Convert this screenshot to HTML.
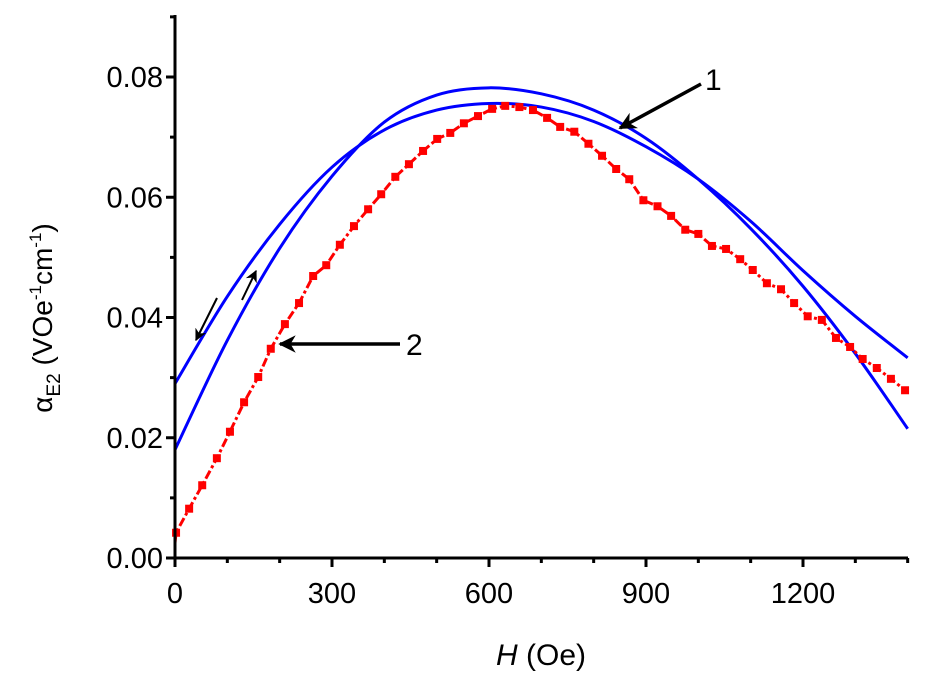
<!DOCTYPE html>
<html><head><meta charset="utf-8"><style>
body{margin:0;background:#fff}
svg text{font-family:"Liberation Sans",Arial,sans-serif;fill:#000}
</style></head><body>
<svg id="chart" width="930" height="674" viewBox="0 0 930 674">
<g id="series"></g>
<g id="axes"></g>
</svg>
<script>
const blueA_H = [0,100,200,300,400,500,600,700,800,900,1000,1100,1200,1300,1400];
const blueA_Y = [0.029,0.0435,0.0555,0.065,0.0712,0.0745,0.0756,0.0750,0.0726,0.0684,0.0630,0.0560,0.0478,0.0402,0.0333];
const blueB_H = [0,100,200,300,400,500,600,700,800,900,1000,1100,1200,1300,1400];
const blueB_Y = [0.018,0.0362,0.0515,0.0635,0.0725,0.077,0.0782,0.0772,0.0745,0.0698,0.0630,0.0548,0.0452,0.034,0.0215];
const red_H = [2,27,52,80,105,132,159,183,210,237,264,289,315,342,369,394,421,447,474,501,526,552,579,606,631,658,684,711,736,763,790,816,843,868,895,922,948,975,1000,1026,1053,1080,1104,1131,1158,1183,1209,1236,1263,1290,1314,1341,1368,1395];
const red_Y = [0.0042,0.0082,0.0121,0.0166,0.021,0.0259,0.0301,0.0348,0.0389,0.0424,0.0469,0.0487,0.0521,0.0552,0.058,0.0605,0.0634,0.0655,0.0677,0.0697,0.0707,0.0723,0.0735,0.0747,0.0752,0.075,0.0745,0.0732,0.0717,0.0709,0.0689,0.0669,0.0647,0.063,0.0595,0.0585,0.0569,0.0546,0.0539,0.0519,0.0514,0.0497,0.0479,0.0457,0.0447,0.0424,0.0402,0.0396,0.0366,0.0351,0.0331,0.0316,0.0298,0.0279];
const xTicks = [0,300,600,900,1200];
const yTicks = [0,0.02,0.04,0.06,0.08];

const NS='http://www.w3.org/2000/svg';
const X0=175, XS=157/300, Y0=558, YS=120.25/0.02;
const sx=h=>X0+h*XS, sy=v=>Y0-v*YS;
function mk(tag,attrs,parent){const e=document.createElementNS(NS,tag);for(const k in attrs)e.setAttribute(k,attrs[k]);parent.appendChild(e);return e;}
const gs=document.getElementById('series'), ga=document.getElementById('axes');

function smoothPath(H,Y){
  const p=H.map((h,i)=>[sx(h),sy(Y[i])]);
  let d='M'+p[0][0]+','+p[0][1];
  for(let i=0;i<p.length-1;i++){
    const a=p[Math.max(i-1,0)],b=p[i],c=p[i+1],e=p[Math.min(i+2,p.length-1)];
    const c1=[b[0]+(c[0]-a[0])/6,b[1]+(c[1]-a[1])/6], c2=[c[0]-(e[0]-b[0])/6,c[1]-(e[1]-b[1])/6];
    d+=' C'+c1.join(',')+' '+c2.join(',')+' '+c.join(',');
  }
  return d;
}
let el;
el=mk('path',{d:smoothPath(blueA_H,blueA_Y),fill:'none',stroke:'#0000ff','stroke-width':3},gs);


el=mk('path',{d:smoothPath(blueB_H,blueB_Y),fill:'none',stroke:'#0000ff','stroke-width':3},gs);


let rd='M'+sx(0)+','+sy(0.0025)+' '+red_H.map((h,i)=>'L'+sx(h)+','+sy(red_Y[i])).join(' ');
el=mk('path',{d:rd,fill:'none',stroke:'#ff0000','stroke-width':3,'stroke-dasharray':'9,3,3,3'},gs);


red_H.forEach((h,i)=>{
  const r=mk('rect',{x:sx(h)-4,y:sy(red_Y[i])-4,width:8,height:8,fill:'#ff0000'},gs);
  
  
});

el=mk('line',{x1:X0,y1:15,x2:X0,y2:Y0+1.5,stroke:'#000','stroke-width':3},ga);


el=mk('line',{x1:X0-1.5,y1:Y0,x2:908,y2:Y0,stroke:'#000','stroke-width':3},ga);


for(let h=100;h<=1400;h+=100){
  if(h%300===0)continue;
  el=mk('line',{x1:sx(h),y1:Y0,x2:sx(h),y2:Y0+5,stroke:'#000','stroke-width':3},ga);
  
  
}
xTicks.forEach(t=>{
  el=mk('line',{x1:sx(t),y1:Y0,x2:sx(t),y2:Y0+9,stroke:'#000','stroke-width':3},ga);
  
  
  el=mk('text',{x:sx(t),y:Y0+45,'font-size':29,'text-anchor':'middle'},ga);
  el.textContent=String(t);
  
  
});
[0.01,0.03,0.05,0.07,0.09].forEach(t=>{
  el=mk('line',{x1:X0-5,y1:sy(t),x2:X0,y2:sy(t),stroke:'#000','stroke-width':3},ga);
  
  
});
yTicks.forEach(t=>{
  el=mk('line',{x1:X0-9,y1:sy(t),x2:X0,y2:sy(t),stroke:'#000','stroke-width':3},ga);
  
  
  el=mk('text',{x:X0-12,y:sy(t)+10,'font-size':29,'text-anchor':'end'},ga);
  el.textContent=t.toFixed(2);
  
  
});
</script>
<svg style="position:absolute;left:0;top:0" width="930" height="674">
<defs><marker id="ah" viewBox="0 0 10 10" refX="9" refY="5" markerWidth="5" markerHeight="5" orient="auto"><path d="M0,0 L10,5 L0,10 L3,5 z" fill="#000"/></marker>
<marker id="ahs" viewBox="0 0 10 10" refX="9" refY="5" markerWidth="6" markerHeight="6" orient="auto"><path d="M0,0 L10,5 L0,10 L3,5 z" fill="#000"/></marker></defs>
<line x1="701" y1="84" x2="620" y2="128" stroke="#000" stroke-width="3.5" marker-end="url(#ah)"/>
<text x="705" y="90" font-size="30" font-family="Liberation Sans, sans-serif">1</text>
<line x1="400" y1="344" x2="280" y2="344" stroke="#000" stroke-width="3.5" marker-end="url(#ah)"/>
<text x="406" y="355" font-size="30" font-family="Liberation Sans, sans-serif">2</text>
<line x1="217" y1="298" x2="196" y2="340" stroke="#000" stroke-width="2" marker-end="url(#ahs)"/>
<line x1="242" y1="300" x2="256" y2="271" stroke="#000" stroke-width="2" marker-end="url(#ahs)"/>
<text transform="translate(52,318) rotate(-90)" text-anchor="middle" font-size="28" font-family="Liberation Sans, sans-serif">α<tspan font-size="19" dy="8">E2</tspan><tspan dy="-8"> (VOe</tspan><tspan font-size="17" dy="-11">-1</tspan><tspan dy="11">cm</tspan><tspan font-size="17" dy="-11">-1</tspan><tspan dy="11">)</tspan></text>
<text x="541" y="665" text-anchor="middle" font-size="30" font-family="Liberation Sans, sans-serif"><tspan font-style="italic">H</tspan> (Oe)</text>
</svg>
</body></html>
